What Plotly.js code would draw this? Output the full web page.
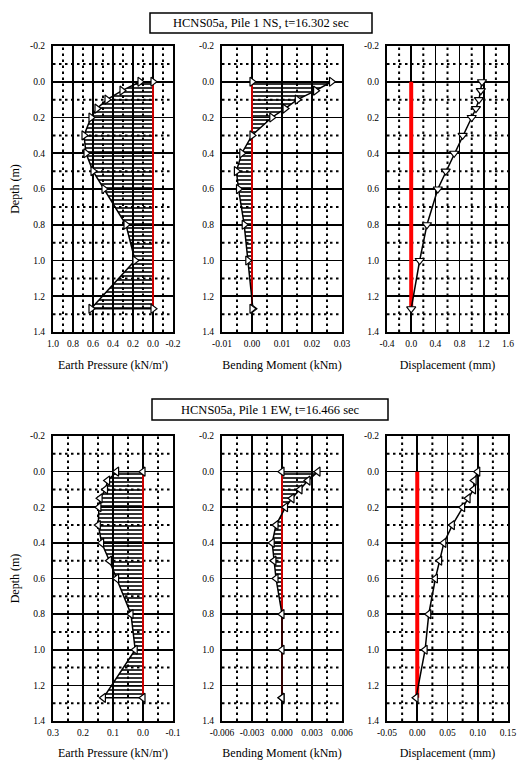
<!DOCTYPE html>
<html>
<head>
<meta charset="utf-8">
<script src="https://cdn.plot.ly/plotly-3.0.1.min.js"></script>
<style>
  html, body { margin: 0; padding: 0; background: #fff; }
  #chart { width: 518px; height: 760px; }
</style>
</head>
<body>
<div id="chart"></div>
<script>
// Measurement depths along the pile (m)
const depth = [0, 0.05, 0.1, 0.15, 0.2, 0.3, 0.4, 0.5, 0.6, 0.8, 1.0, 1.27];
const pileTop = 0;
const pileTip = 1.27;

// NS direction, t = 16.302 sec
const nsPressure = [0.13, 0.31, 0.46, 0.56, 0.62, 0.69, 0.67, 0.60, 0.49, 0.27, 0.18, 0.62];
const nsMoment = [0.0265, 0.0212, 0.0151, 0.011, 0.0066, 0.0, -0.0034, -0.0052, -0.0045, -0.0026, -0.0014, 0.0003];
const nsDisp = [1.17, 1.15, 1.12, 1.07, 1.0, 0.85, 0.71, 0.57, 0.44, 0.26, 0.14, 0.0];

// EW direction, t = 16.466 sec
const ewPressure = [0.088, 0.118, 0.125, 0.143, 0.147, 0.149, 0.138, 0.112, 0.088, 0.040, 0.026, 0.132];
const ewMoment = [0.0036, 0.0026, 0.0018, 0.0010, 0.00035, -0.0006, -0.00098, -0.00081, -0.0006, 0.0, 0.0, 0.0];
const ewDisp = [0.100, 0.094, 0.093, 0.084, 0.075, 0.058, 0.044, 0.037, 0.030, 0.019, 0.013, -0.002];

// Titles
const nsTitle = 'HCNS05a, Pile 1 NS, t=16.302 sec';
const ewTitle = 'HCNS05a, Pile 1 EW, t=16.466 sec';
const pressureTitle = "Earth Pressure (kN/m')";
const momentTitle = 'Bending Moment (kNm)';
const dispTitle = 'Displacement (mm)';
const depthTitle = 'Depth (m)';

// Tick values and labels
const depthTicks = [-0.2, 0.0, 0.2, 0.4, 0.6, 0.8, 1.0, 1.2, 1.4];
const depthLabels = ['-0.2', '0.0', '0.2', '0.4', '0.6', '0.8', '1.0', '1.2', '1.4'];
const nsPressureTicks = [1.0, 0.8, 0.6, 0.4, 0.2, 0.0, -0.2];
const nsPressureLabels = ['1.0', '0.8', '0.6', '0.4', '0.2', '0.0', '-0.2'];
const nsMomentTicks = [-0.01, 0.0, 0.01, 0.02, 0.03];
const nsMomentLabels = ['-0.01', '0.00', '0.01', '0.02', '0.03'];
const nsDispTicks = [-0.4, 0.0, 0.4, 0.8, 1.2, 1.6];
const nsDispLabels = ['-0.4', '0.0', '0.4', '0.8', '1.2', '1.6'];
const ewPressureTicks = [0.3, 0.2, 0.1, 0.0, -0.1];
const ewPressureLabels = ['0.3', '0.2', '0.1', '0.0', '-0.1'];
const ewMomentTicks = [-0.006, -0.003, 0.0, 0.003, 0.006];
const ewMomentLabels = ['-0.006', '-0.003', '0.000', '0.003', '0.006'];
const ewDispTicks = [-0.05, 0.0, 0.05, 0.10, 0.15];
const ewDispLabels = ['-0.05', '0.00', '0.05', '0.10', '0.15'];

const FONT = 'Liberation Serif, Times New Roman, serif';

// Dotted grid sits halfway between the solid (labelled) grid lines
function midpoints(t) {
  const out = [];
  for (let k = 0; k < t.length - 1; k++) out.push((t[k] + t[k + 1]) / 2);
  return out;
}

const panels = [
  { vals: nsPressure, ticks: nsPressureTicks, labels: nsPressureLabels, range: [1.0, -0.2],
    title: pressureTitle, symbol: 'triangle-right', hatch: true, row: 0, col: 0 },
  { vals: nsMoment, ticks: nsMomentTicks, labels: nsMomentLabels, range: [-0.01, 0.03],
    title: momentTitle, symbol: 'triangle-right', hatch: true, row: 0, col: 1 },
  { vals: nsDisp, ticks: nsDispTicks, labels: nsDispLabels, range: [-0.4, 1.6],
    title: dispTitle, symbol: 'triangle-down', hatch: false, row: 0, col: 2 },
  { vals: ewPressure, ticks: ewPressureTicks, labels: ewPressureLabels, range: [0.3, -0.1],
    title: pressureTitle, symbol: 'triangle-left', hatch: true, row: 1, col: 0 },
  { vals: ewMoment, ticks: ewMomentTicks, labels: ewMomentLabels, range: [-0.006, 0.006],
    title: momentTitle, symbol: 'triangle-left', hatch: true, row: 1, col: 1 },
  { vals: ewDisp, ticks: ewDispTicks, labels: ewDispLabels, range: [-0.05, 0.15],
    title: dispTitle, symbol: 'triangle-left', hatch: false, row: 1, col: 2 }
];

const W = 518, H = 760;
const colPx = [[53, 173], [222, 342], [387, 508]];
const rowPx = [[46, 332], [436, 721]];

const traces = [];
const layout = {
  width: W, height: H,
  margin: { l: 0, r: 0, t: 0, b: 0 },
  paper_bgcolor: 'white', plot_bgcolor: 'white',
  showlegend: false,
  font: { family: FONT, color: 'black', size: 10 },
  shapes: [], annotations: []
};

const markerStyle = sym => ({ symbol: sym, size: 8, color: 'white', line: { color: 'black', width: 1.2 } });
const dotLine = { color: 'black', width: 2, dash: '2.5px,3.5px' };

panels.forEach((p, i) => {
  const n = i === 0 ? '' : String(i + 1);
  const xa = 'x' + n, ya = 'y' + n;

  if (p.hatch) {
    // Profile closed against the pile axis (x = 0 at top and tip)
    const px = [0].concat(p.vals, [0]);
    const py = [pileTop].concat(depth, [pileTip]);
    traces.push({
      x: px, y: py, xaxis: xa, yaxis: ya, type: 'scatter', mode: 'lines',
      line: { width: 0, color: 'rgba(0,0,0,0)' },
      fill: 'toself', fillcolor: 'rgba(255,255,255,0)',
      fillpattern: { shape: '-', size: 4, solidity: 0.4, fgcolor: 'black', bgcolor: 'rgba(255,255,255,0)' },
      hoverinfo: 'skip'
    });
    traces.push({
      x: [0, 0], y: [pileTop, pileTip], xaxis: xa, yaxis: ya, type: 'scatter', mode: 'lines',
      line: { color: '#ff0000', width: 1.6 }, hoverinfo: 'skip'
    });
    traces.push({
      x: px, y: py, xaxis: xa, yaxis: ya, type: 'scatter', mode: 'lines+markers',
      line: { color: 'black', width: 1.5 }, marker: markerStyle(p.symbol)
    });
  } else {
    traces.push({
      x: [0, 0], y: [pileTop, pileTip], xaxis: xa, yaxis: ya, type: 'scatter', mode: 'lines',
      line: { color: '#ff0000', width: 4 }, hoverinfo: 'skip'
    });
    traces.push({
      x: p.vals, y: depth, xaxis: xa, yaxis: ya, type: 'scatter', mode: 'lines+markers',
      line: { color: 'black', width: 1.5 }, marker: markerStyle(p.symbol)
    });
  }

  // Dotted intermediate grid lines
  midpoints(p.ticks).forEach(v => layout.shapes.push({
    type: 'line', layer: 'below', xref: xa, yref: ya + ' domain',
    x0: v, x1: v, y0: 0, y1: 1, line: dotLine
  }));
  midpoints(depthTicks).forEach(v => layout.shapes.push({
    type: 'line', layer: 'below', xref: xa + ' domain', yref: ya,
    x0: 0, x1: 1, y0: v, y1: v, line: dotLine
  }));

  const cx = colPx[p.col], ry = rowPx[p.row];
  const common = {
    showline: true, mirror: true, linecolor: 'black', linewidth: 2,
    showgrid: true, gridcolor: 'black', gridwidth: 1.6,
    zeroline: false, ticks: '', automargin: false,
    ticklabeloverflow: 'allow',
    tickfont: { family: FONT, size: 9.5, color: 'black' },
    fixedrange: true
  };

  layout['xaxis' + n] = Object.assign({}, common, {
    domain: [cx[0] / W, cx[1] / W], anchor: ya,
    range: p.range, tickmode: 'array', tickvals: p.ticks, ticktext: p.labels,
    ticklabelstandoff: 2,
    title: { text: p.title, font: { family: FONT, size: 12, color: 'black' }, standoff: 12 }
  });
  const yTitle = p.col === 0
    ? { text: depthTitle, font: { family: FONT, size: 12, color: 'black' }, standoff: 8 }
    : { text: '' };
  layout['yaxis' + n] = Object.assign({}, common, {
    domain: [1 - ry[1] / H, 1 - ry[0] / H], anchor: xa,
    range: [1.4, -0.2], tickmode: 'array', tickvals: depthTicks, ticktext: depthLabels,
    ticklabelstandoff: 4,
    title: yTitle
  });
});

// Boxed run titles above each row
const boxes = [
  { text: nsTitle, x0: 150, x1: 372, y0: 13, y1: 33 },
  { text: ewTitle, x0: 152, x1: 388, y0: 399, y1: 420 }
];
boxes.forEach(b => {
  layout.shapes.push({
    type: 'rect', xref: 'paper', yref: 'paper',
    x0: b.x0 / W, x1: b.x1 / W, y0: 1 - b.y1 / H, y1: 1 - b.y0 / H,
    line: { color: 'black', width: 1.5 }, fillcolor: 'white'
  });
  layout.annotations.push({
    xref: 'paper', yref: 'paper', x: (b.x0 + b.x1) / 2 / W, y: 1 - (b.y0 + b.y1) / 2 / H,
    xanchor: 'center', yanchor: 'middle', showarrow: false,
    text: b.text, font: { family: FONT, size: 12.5, color: 'black' }
  });
});

Plotly.newPlot('chart', traces, layout, { staticPlot: true, displayModeBar: false });
</script>
</body>
</html>
